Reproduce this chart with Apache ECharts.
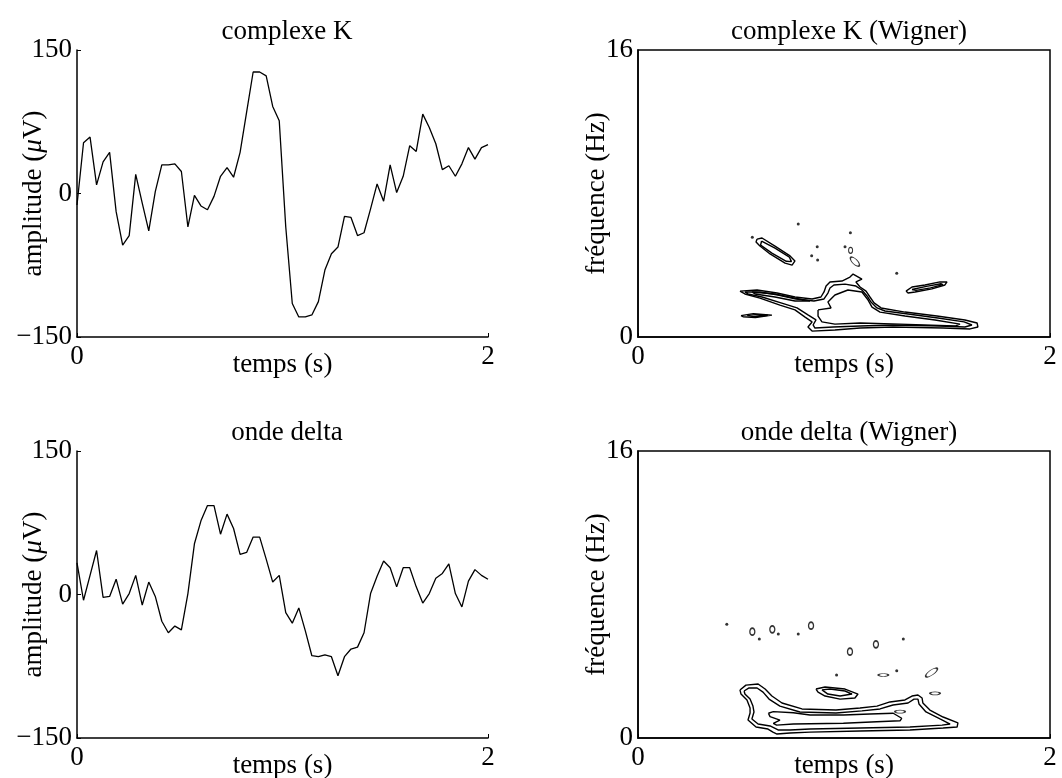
<!DOCTYPE html>
<html>
<head>
<meta charset="utf-8">
<script src="https://cdn.jsdelivr.net/npm/echarts@6/dist/echarts.min.js"></script>
<style>
  html, body { margin: 0; padding: 0; background: #fff; }
  #chart1 { width: 1062px; height: 778px; }
</style>
</head>
<body>
<div id="chart1"></div>
<script>
// EEG samples, 64 points over 2 s (amplitude in uV)
var ampComplexeK = [-12, 53, 59, 9, 33, 43, -19, -54, -44, 20, -10, -39, 2, 30, 30, 31, 23, -35, -2, -13,
    -17, -3, 18, 27, 17, 43, 85, 127, 127, 123, 91, 76, -35, -115, -129, -129, -127, -113, -80, -63,
    -56, -24, -25, -44, -41, -16, 10, -8, 30, 1, 18, 50, 44, 83, 69, 52, 25, 29, 18, 31, 48, 36, 48, 51];
var ampDelta = [33, -6, 20, 46, -3, -2, 16, -10, 1, 20, -11, 13, -2, -28, -40, -33, -37, 1, 53, 77,
    93, 93, 63, 84, 69, 42, 44, 60, 60, 37, 13, 20, -19, -30, -14, -38, -64, -65, -63, -65,
    -85, -65, -57, -55, -40, 1, 19, 35, 28, 8, 28, 28, 8, -9, 1, 17, 22, 32, 1, -13, 14, 26, 20, 16];
var duration = 2;
var ampTicks = [-150, 0, 150];
var freqTicks = [0, 16];

// Wigner contours, complexe K  ([temps s, frequence Hz])
var wkOuter = [[0.495, 2.56], [0.578, 2.62], [0.675, 2.45], [0.762, 2.23], [0.845, 2.12], [0.888, 2.23], [0.903, 2.51],
    [0.913, 2.84], [0.932, 3.07], [0.990, 3.12], [1.029, 3.34], [1.044, 3.51], [1.087, 3.23], [1.058, 3.07], [1.078, 2.79],
    [1.107, 2.56], [1.126, 2.23], [1.146, 1.90], [1.180, 1.62], [1.296, 1.39], [1.451, 1.17], [1.587, 0.95], [1.646, 0.78],
    [1.650, 0.56], [1.612, 0.45], [1.481, 0.50], [1.238, 0.56], [1.078, 0.50], [0.956, 0.39], [0.845, 0.33], [0.825, 0.56],
    [0.845, 0.84], [0.811, 1.11], [0.762, 1.51], [0.689, 1.78], [0.592, 2.17], [0.519, 2.40]];
var wkMiddle = [[0.519, 2.51], [0.592, 2.51], [0.680, 2.34], [0.767, 2.12], [0.854, 2.01], [0.903, 2.12], [0.922, 2.45],
    [0.932, 2.73], [0.951, 2.90], [1.005, 2.95], [1.058, 2.84], [1.087, 2.62], [1.112, 2.29], [1.131, 1.95], [1.160, 1.62],
    [1.199, 1.45], [1.311, 1.28], [1.456, 1.06], [1.583, 0.84], [1.621, 0.67], [1.587, 0.56], [1.466, 0.61], [1.238, 0.67],
    [1.078, 0.61], [0.947, 0.56], [0.859, 0.50], [0.850, 0.67], [0.864, 0.95], [0.825, 1.23], [0.772, 1.62], [0.694, 1.90],
    [0.602, 2.23], [0.534, 2.40]];
var wkInner = [[0.874, 1.51], [0.937, 1.62], [0.922, 1.95], [0.956, 2.34], [1.019, 2.62], [1.087, 2.51], [1.117, 2.06],
    [1.136, 1.67], [1.175, 1.39], [1.296, 1.17], [1.442, 0.95], [1.563, 0.72], [1.539, 0.61], [1.272, 0.72], [1.078, 0.78],
    [0.956, 0.72], [0.893, 0.84], [0.874, 1.17]];
var wkTail = [[0.553, 2.51], [0.665, 2.40], [0.762, 2.17], [0.835, 2.01], [0.762, 2.01], [0.665, 2.23], [0.568, 2.40]];
var wkLow = [[0.50, 1.19], [0.56, 1.30], [0.65, 1.22], [0.57, 1.08], [0.51, 1.13]];
var wkLowIn = [[0.53, 1.19], [0.57, 1.25], [0.63, 1.21], [0.57, 1.13]];
var wkDiag = [[0.578, 5.46], [0.602, 5.52], [0.665, 5.07], [0.738, 4.52], [0.762, 4.24], [0.748, 4.01], [0.714, 4.12],
    [0.641, 4.63], [0.592, 5.07], [0.573, 5.30]];
var wkDiagIn = [[0.60, 5.35], [0.665, 4.95], [0.735, 4.45], [0.745, 4.20], [0.72, 4.22], [0.65, 4.68], [0.595, 5.12]];
var wkRight = [[1.301, 2.56], [1.330, 2.79], [1.393, 2.90], [1.466, 3.07], [1.500, 3.07], [1.490, 2.90], [1.427, 2.68],
    [1.345, 2.51], [1.311, 2.45]];
var wkRightIn = [[1.33, 2.65], [1.40, 2.82], [1.47, 2.97], [1.48, 2.92], [1.42, 2.74], [1.35, 2.60]];
var wkDots = [[0.555, 5.56], [0.778, 6.30], [0.870, 5.03], [0.843, 4.53], [0.872, 4.29], [1.031, 5.81], [1.005, 5.03],
    [1.256, 3.55]];
var wkRings = [[1.032, 4.83]];
var wkTilted = [[1.053, 4.20]];

// Wigner contours, onde delta
var wdOuter = [[0.495, 2.68], [0.524, 2.95], [0.583, 3.01], [0.617, 2.73], [0.650, 2.34], [0.699, 1.95], [0.796, 1.62],
    [0.961, 1.56], [1.078, 1.67], [1.160, 1.78], [1.223, 2.01], [1.296, 2.12], [1.330, 2.34], [1.359, 2.40], [1.379, 2.23],
    [1.383, 1.95], [1.417, 1.56], [1.481, 1.17], [1.553, 0.84], [1.549, 0.61], [1.481, 0.56], [1.320, 0.45], [1.078, 0.39],
    [0.835, 0.33], [0.738, 0.28], [0.675, 0.22], [0.655, 0.33], [0.631, 0.50], [0.573, 0.61], [0.534, 1.00], [0.544, 1.39],
    [0.544, 1.67], [0.529, 2.12], [0.500, 2.45]];
var wdMiddle = [[0.515, 2.62], [0.539, 2.79], [0.578, 2.79], [0.607, 2.56], [0.636, 2.17], [0.689, 1.78], [0.786, 1.45],
    [0.961, 1.39], [1.087, 1.51], [1.175, 1.62], [1.238, 1.84], [1.311, 1.95], [1.340, 2.17], [1.359, 2.17], [1.364, 1.90],
    [1.398, 1.45], [1.466, 1.06], [1.515, 0.78], [1.476, 0.72], [1.320, 0.61], [1.078, 0.56], [0.835, 0.50], [0.738, 0.45],
    [0.680, 0.45], [0.641, 0.67], [0.583, 0.78], [0.553, 1.06], [0.563, 1.45], [0.558, 1.78], [0.544, 2.17], [0.519, 2.45]];
var wdInner = [[0.633, 1.38], [0.657, 1.47], [0.754, 1.41], [0.835, 1.28], [0.997, 1.28], [1.126, 1.34], [1.239, 1.38],
    [1.280, 1.10], [1.272, 0.96], [1.159, 0.91], [0.997, 0.82], [0.754, 0.78], [0.673, 0.72], [0.657, 0.82], [0.689, 1.00],
    [0.641, 1.19]];
var wdMid = [[0.864, 2.73], [0.908, 2.84], [1.005, 2.73], [1.068, 2.45], [1.053, 2.23], [0.981, 2.17], [0.908, 2.34],
    [0.874, 2.56]];
var wdMidIn = [[0.893, 2.68], [0.932, 2.73], [1.005, 2.62], [1.039, 2.45], [0.981, 2.34], [0.922, 2.45]];
var wdDots = [[0.431, 6.34], [0.589, 5.52], [0.681, 5.80], [0.778, 5.80], [1.288, 5.52], [1.256, 3.75], [0.964, 3.51]];
var wdRings = [[0.555, 5.93], [0.652, 6.06], [0.840, 6.26], [1.029, 4.81], [1.155, 5.22]];
var wdFlat = [[1.191, 3.51], [1.442, 2.49], [1.272, 1.47]];
var wdTilted = [[1.425, 3.65]];

var myChart = echarts.init(document.getElementById('chart1'));

var font = 'Liberation Serif';
var fs = 27;
var sampleStep = duration / (ampComplexeK.length - 1);

function closed(pts) {
    return pts.concat([pts[0]]);
}

function contour(pts, idx) {
    return {
        type: 'line', xAxisIndex: idx, yAxisIndex: idx,
        data: closed(pts), showSymbol: false, symbol: 'none',
        lineStyle: { color: '#000', width: 1.4 }, silent: true
    };
}

function minus(v) {
    return v < 0 ? '\u2212' + Math.abs(v) : String(v);
}

var grids = [
    { left: 77, top: 50, width: 411, height: 287, outerBoundsMode: 'none' },
    { left: 638, top: 50, width: 412, height: 287, show: true, borderColor: '#000', borderWidth: 1.5, outerBoundsMode: 'none' },
    { left: 77, top: 451, width: 411, height: 287, outerBoundsMode: 'none' },
    { left: 638, top: 451, width: 412, height: 287, show: true, borderColor: '#000', borderWidth: 1.5, outerBoundsMode: 'none' }
];

var xAxes = [0, 1, 2, 3].map(function (i) {
    return {
        type: 'value', gridIndex: i, min: 0, max: duration, interval: duration,
        name: 'temps (s)', nameLocation: 'middle', nameGap: 14, nameMoveOverlap: false,
        nameTextStyle: { fontFamily: font, fontSize: fs, color: '#000' },
        axisLine: { show: true, onZero: false, lineStyle: { color: '#000', width: 1.5 } },
        axisTick: { show: true, inside: true, length: 4, lineStyle: { color: '#000' } },
        axisLabel: { fontFamily: font, fontSize: fs, color: '#000', margin: 6 },
        splitLine: { show: false }
    };
});

var yAxes = [0, 1, 2, 3].map(function (i) {
    var isAmp = (i % 2 === 0);
    return {
        type: 'value', gridIndex: i,
        min: isAmp ? ampTicks[0] : freqTicks[0],
        max: isAmp ? ampTicks[2] : freqTicks[1],
        interval: isAmp ? 150 : 16,
        name: isAmp ? '{r|amplitude (}{i|\u03bc}{r|V)}' : 'fr\u00e9quence (Hz)',
        nameLocation: 'middle', nameGap: isAmp ? 30 : 28, nameRotate: 90, nameMoveOverlap: false,
        nameTextStyle: {
            fontFamily: font, fontSize: fs, color: '#000',
            rich: {
                r: { fontFamily: font, fontSize: fs, color: '#000' },
                i: { fontFamily: font, fontSize: fs, color: '#000', fontStyle: 'italic' }
            }
        },
        axisLine: { show: true, onZero: false, lineStyle: { color: '#000', width: 1.5 } },
        axisTick: { show: isAmp, inside: true, length: 4, lineStyle: { color: '#000' } },
        axisLabel: { fontFamily: font, fontSize: fs, color: '#000', margin: 5, formatter: minus },
        splitLine: { show: false }
    };
});

var titleStyle = { fontFamily: font, fontSize: fs, fontWeight: 'normal', color: '#000' };

option = {
    animation: false,
    backgroundColor: '#fff',
    title: [
        { text: 'complexe K', left: 282, top: 13, textAlign: 'center', textStyle: titleStyle },
        { text: 'complexe K (Wigner)', left: 844, top: 13, textAlign: 'center', textStyle: titleStyle },
        { text: 'onde delta', left: 282, top: 414, textAlign: 'center', textStyle: titleStyle },
        { text: 'onde delta (Wigner)', left: 844, top: 414, textAlign: 'center', textStyle: titleStyle }
    ],
    grid: grids,
    xAxis: xAxes,
    yAxis: yAxes,
    series: [
        {
            type: 'line', xAxisIndex: 0, yAxisIndex: 0, showSymbol: false, symbol: 'none',
            lineStyle: { color: '#000', width: 1.3 },
            data: ampComplexeK.map(function (v, i) { return [i * sampleStep, v]; })
        },
        {
            type: 'line', xAxisIndex: 2, yAxisIndex: 2, showSymbol: false, symbol: 'none',
            lineStyle: { color: '#000', width: 1.3 },
            data: ampDelta.map(function (v, i) { return [i * sampleStep, v]; })
        },
        contour(wkOuter, 1), contour(wkMiddle, 1), contour(wkInner, 1), contour(wkTail, 1),
        contour(wkLow, 1), contour(wkLowIn, 1), contour(wkDiag, 1), contour(wkDiagIn, 1),
        contour(wkRight, 1), contour(wkRightIn, 1),
        {
            type: 'scatter', xAxisIndex: 1, yAxisIndex: 1, data: wkDots, symbolSize: 3,
            itemStyle: { color: '#000' }
        },
        {
            type: 'scatter', xAxisIndex: 1, yAxisIndex: 1, data: wkRings, symbolSize: [4, 6],
            itemStyle: { color: '#fff', borderColor: '#000', borderWidth: 1.2 }
        },
        {
            type: 'scatter', xAxisIndex: 1, yAxisIndex: 1, data: wkTilted, symbolSize: [12, 5], symbolRotate: -45,
            itemStyle: { color: '#fff', borderColor: '#000', borderWidth: 1.2 }
        },
        contour(wdOuter, 3), contour(wdMiddle, 3), contour(wdInner, 3), contour(wdMid, 3), contour(wdMidIn, 3),
        {
            type: 'scatter', xAxisIndex: 3, yAxisIndex: 3, data: wdDots, symbolSize: 3,
            itemStyle: { color: '#000' }
        },
        {
            type: 'scatter', xAxisIndex: 3, yAxisIndex: 3, data: wdRings, symbolSize: [5, 7],
            itemStyle: { color: '#fff', borderColor: '#000', borderWidth: 1.5 }
        },
        {
            type: 'scatter', xAxisIndex: 3, yAxisIndex: 3, data: wdFlat, symbolSize: [10, 3],
            itemStyle: { color: '#fff', borderColor: '#000', borderWidth: 1.2 }
        },
        {
            type: 'scatter', xAxisIndex: 3, yAxisIndex: 3, data: wdTilted, symbolSize: [14, 5], symbolRotate: 35,
            itemStyle: { color: '#fff', borderColor: '#000', borderWidth: 1.2 }
        }
    ]
};
myChart.setOption(option);
window.onresize = myChart.resize;
</script>
</body>
</html>
